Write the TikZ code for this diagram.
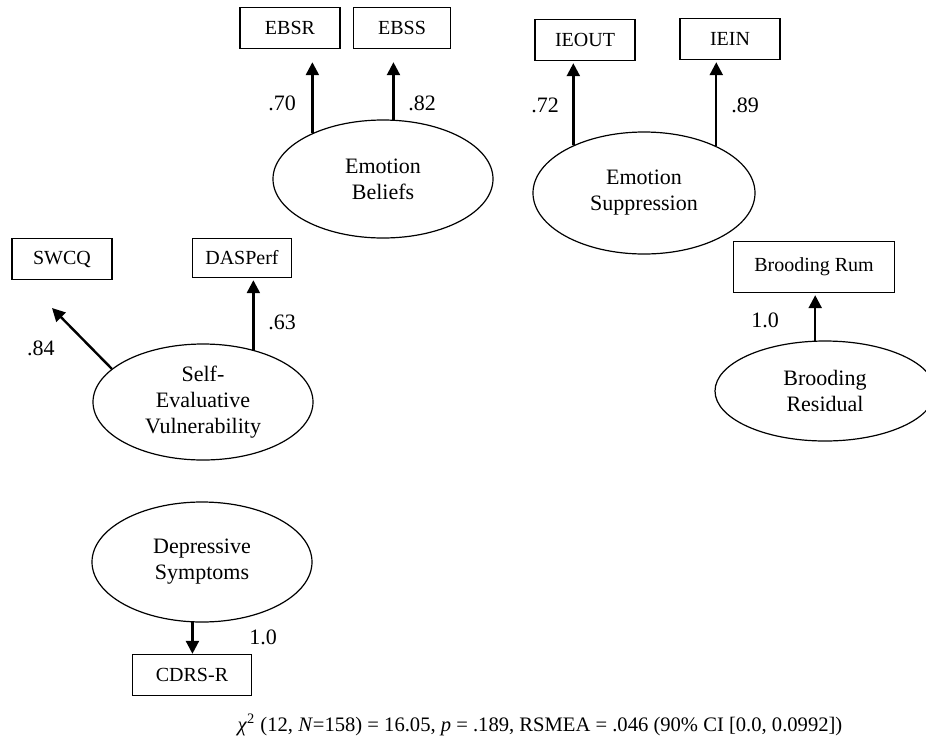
\documentclass[tikz,border=0pt]{standalone}
\usepackage{fontspec}
\setmainfont{Liberation Serif}
\usetikzlibrary{arrows.meta}
\usetikzlibrary{shapes.geometric}
\tikzset{
latent/.style={draw, ellipse, line width=0.6pt, align=center, inner sep=0pt,
    font=\fontsize{11}{13}\selectfont},
obs/.style={draw, rectangle, line width=0.7pt, minimum width=50pt,
    minimum height=20.5pt, inner sep=0pt, font=\fontsize{10}{12}\selectfont},
load/.style={-{Triangle[length=6.5pt,width=6.5pt]}, line width=1.2pt},
coef/.style={inner sep=0pt, font=\fontsize{11}{13}\selectfont},
}
\begin{document}
\begin{tikzpicture}[x=0.5pt,y=0.5pt]
    \useasboundingbox (0,0) rectangle (926,-751);
    % indicators
    \node[obs] (ebsr) at (290,-28) {EBSR};
    \node[obs, minimum width=48.5pt] (ebss) at (402,-28) {EBSS};
    \node[obs] (ieout) at (585,-40) {IEOUT};
    \node[obs] (iein) at (730,-39) {IEIN};
    \node[obs] (swcq) at (62,-259) {SWCQ};
    \node[obs, minimum width=49.5pt, minimum height=19.5pt] (dasperf) at (242,-258) {DASPerf};
    \node[obs, minimum width=80.5pt, minimum height=25.5pt] (brum) at (814,-267) {Brooding Rum};
    \node[obs, minimum width=59.5pt] (cdrs) at (192,-675) {CDRS-R};
    % latent variables
    \node[latent, minimum width=110pt, minimum height=59pt] (eb) at (383,-179) {Emotion\\Beliefs};
    \node[latent, minimum width=111pt, minimum height=61pt] (es) at (644,-193) {Emotion\\Suppression};
    \node[latent, minimum width=110pt, minimum height=58pt] (sev) at (203,-402) {Self-\\Evaluative\\Vulnerability};
    \node[latent, minimum width=110pt, minimum height=50pt] (br) at (825,-391) {Brooding\\Residual};
    \node[latent, minimum width=110pt, minimum height=60pt] (ds) at (202,-562) {Depressive\\Symptoms};
    % loadings
    \coordinate (swcqtip) at (52,-308);
    \draw[load, shorten >=6.5pt] (eb.147) -- (eb.147 |- ebsr.south);
    \draw[load, shorten >=6.5pt] (eb.80) -- (eb.80 |- ebss.south);
    \draw[load, shorten >=1pt] (es.146) -- (es.146 |- ieout.south);
    \draw[load, shorten >=1pt] (es.33) -- (es.33 |- iein.south);
    \draw[load, shorten >=1pt] (sev.46) -- (sev.46 |- dasperf.south);
    \draw[load] (sev.160) -- (swcqtip);
    \draw[load, shorten >=1pt] (br.101) -- (br.101 |- brum.south);
    \draw[load] (ds.261) -- (ds.261 |- cdrs.north);
    \node[coef] (l70) at (282,-103) {.70};
    \node[coef] (l82) at (422,-103) {.82};
    \node[coef] (l72) at (545,-105) {.72};
    \node[coef] (l89) at (745,-105) {.89};
    \node[coef] (l84) at (41,-348) {.84};
    \node[coef] (l63) at (282,-322) {.63};
    \node[coef] (lbr) at (765,-320) {1.0};
    \node[coef] (lds) at (263,-637) {1.0};
    % fit
    \node[font=\fontsize{10.3}{12}\selectfont, inner sep=0pt] (fit) at (540,-725)
        {\textit{χ}\textsuperscript{2} (12, \textit{N}=158) = 16.05, \textit{p} = .189, RSMEA = .046 (90\% CI [0.0, 0.0992])};
\end{tikzpicture}
\end{document}
